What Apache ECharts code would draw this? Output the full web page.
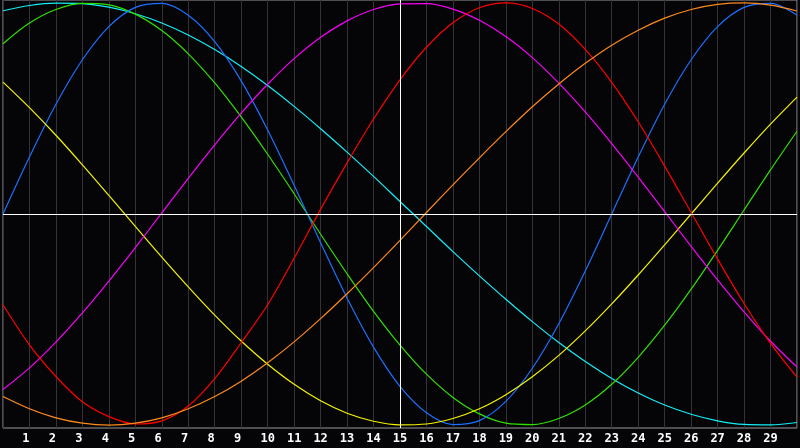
<!DOCTYPE html>
<html lang="en">
<head>
    <meta charset="utf-8">
    <title>Document</title>
    <script src="https://cdn.jsdelivr.net/npm/echarts@6/dist/echarts.min.js"></script>
    <style>
        html, body { margin: 0; padding: 0; background: #050508; }
    </style>
</head>
<body>
<div id="pic1" style="width:800px;height:448px;"></div>

<script>
    // x positions 0..30
    var xs = [0, 1, 2, 3, 4, 5, 6, 7, 8, 9, 10, 11, 12, 13, 14, 15, 16, 17, 18, 19, 20,
        21, 22, 23, 24, 25, 26, 27, 28, 29, 30];

    // values (-1 .. 1)
    var cyanVals = [0.963, 0.988, 0.999, 0.997, 0.980, 0.949, 0.905, 0.848, 0.779, 0.699, 0.609,
        0.510, 0.404, 0.293, 0.178, 0.059, -0.059, -0.178, -0.293, -0.404, -0.510,
        -0.609, -0.699, -0.779, -0.848, -0.905, -0.949, -0.980, -0.997, -0.999, -0.988];
    var greenVals = [0.807, 0.905, 0.969, 0.998, 0.991, 0.947, 0.869, 0.759, 0.621, 0.460, 0.283,
        0.096, -0.096, -0.283, -0.461, -0.621, -0.759, -0.869, -0.947, -0.991, -0.998,
        -0.969, -0.905, -0.807, -0.679, -0.527, -0.356, -0.172, 0.019, 0.209, 0.392];
    var blueVals = [0, 0.270, 0.520, 0.731, 0.888, 0.979, 0.998, 0.942, 0.817, 0.631, 0.398,
        0.136, -0.136, -0.398, -0.631, -0.817, -0.942, -0.998, -0.979, -0.888, -0.731,
        -0.520, -0.270, 0, 0.270, 0.520, 0.731, 0.888, 0.979, 0.998, 0.942];
    var yellowVals = [0.625, 0.504, 0.373, 0.233, 0.088, -0.059, -0.204, -0.345, -0.479, -0.602, -0.712,
        -0.807, -0.885, -0.944, -0.982, -0.999, -0.995, -0.969, -0.923, -0.856, -0.771,
        -0.670, -0.554, -0.426, -0.289, -0.146, 0.000, 0.146, 0.289, 0.426, 0.554];
    var magentaVals = [-0.832, -0.729, -0.607, -0.469, -0.318, -0.159, 0.005, 0.169, 0.328, 0.478, 0.615,
        0.736, 0.837, 0.915, 0.969, 0.996, 0.997, 0.971, 0.918, 0.841, 0.741,
        0.620, 0.484, 0.334, 0.175, 0.011, -0.153, -0.312, -0.464, -0.603, -0.725];
    var redVals = [-0.43, -0.62, -0.77, -0.89, -0.96, -0.995, -0.98, -0.91, -0.78, -0.61, -0.43,
        -0.21, 0.022, 0.242, 0.450, 0.636, 0.790, 0.906, 0.977, 1.000, 0.974,
        0.900, 0.780, 0.624, 0.437, 0.227, 0.007, -0.214, -0.424, -0.613, -0.773];
    var orangeVals = [-0.865, -0.923, -0.966, -0.991, -1.000, -0.991, -0.966, -0.923, -0.865, -0.792, -0.705,
        -0.606, -0.496, -0.378, -0.254, -0.125, 0.007, 0.138, 0.266, 0.390, 0.508,
        0.616, 0.714, 0.800, 0.871, 0.928, 0.969, 0.993, 1.000, 0.990, 0.962];

    var curves = [
        { name: 'cyan', color: '#14eef6', vals: cyanVals },
        { name: 'green', color: '#30e000', vals: greenVals },
        { name: 'blue', color: '#1c70ff', vals: blueVals },
        { name: 'yellow', color: '#f4f400', vals: yellowVals },
        { name: 'magenta', color: '#f800f8', vals: magentaVals },
        { name: 'red', color: '#ff0000', vals: redVals },
        { name: 'orange', color: '#ff8a1c', vals: orangeVals }
    ];

    window.onload = function () {
        var mCharts = echarts.init(document.getElementById('pic1'));

        var series = [];
        for (var i = 0; i < curves.length; i++) {
            var c = curves[i];
            series.push({
                name: c.name,
                type: 'line',
                smooth: 0.33,
                showSymbol: false,
                animation: false,
                lineStyle: { color: c.color, width: 1.2 },
                data: xs.map(function (x, k) { return [x, c.vals[k]]; })
            });
        }
        // white cross lines (y = 0 and x = 15)
        series.push({
            type: 'line',
            data: [],
            markLine: {
                silent: true,
                symbol: 'none',
                animation: false,
                label: { show: false },
                lineStyle: { color: '#ffffff', width: 1, type: 'solid' },
                data: [{ yAxis: 0 }, { xAxis: 15 }]
            }
        });

        var option = {
            backgroundColor: '#050508',
            animation: false,
            grid: {
                left: 0,
                right: 0,
                top: 0,
                bottom: 20,
                show: true,
                borderColor: '#9a9a9a',
                borderWidth: 1,
                backgroundColor: 'transparent'
            },
            xAxis: {
                type: 'value',
                min: 0,
                max: 30,
                interval: 1,
                axisLine: { show: false },
                axisTick: { show: false },
                splitLine: { show: true, lineStyle: { color: '#333338', width: 1 } },
                axisLabel: {
                    color: '#ffffff',
                    fontWeight: 'bold',
                    fontSize: 12,
                    fontFamily: 'DejaVu Sans Mono',
                    margin: 5,
                    formatter: function (v) {
                        if (v <= 0 || v >= 30) return '';
                        // single digits sit left of the grid line, like the original
                        return v < 10 ? v + ' ' : String(v);
                    }
                }
            },
            yAxis: {
                type: 'value',
                min: -1.014,
                max: 1.014,
                axisLine: { show: false },
                axisTick: { show: false },
                axisLabel: { show: false },
                splitLine: { show: false }
            },
            series: series
        };

        mCharts.setOption(option);
    };
</script>

</body>
</html>
